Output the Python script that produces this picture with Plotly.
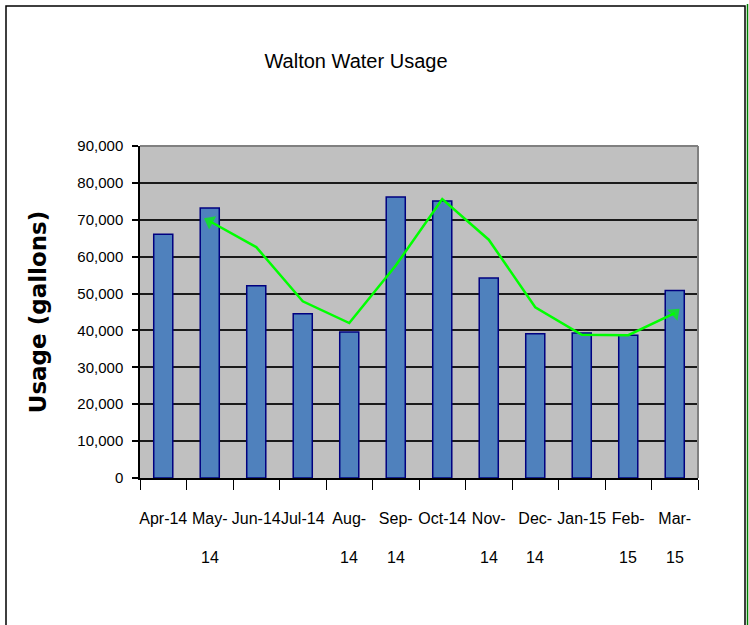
import plotly.graph_objects as go

# ---- data ----
months = ["Apr-14", "May-14", "Jun-14", "Jul-14", "Aug-14", "Sep-14",
          "Oct-14", "Nov-14", "Dec-14", "Jan-15", "Feb-15", "Mar-15"]
usage = [66100, 73200, 52100, 44500, 39600, 76200,
         75100, 54200, 39100, 39300, 38700, 50800]
# green trend line (starts at May-14)
trend_months = months[1:]
trend_values = [69600, 62600, 47900, 42000, 57600, 75600,
                64600, 46300, 38800, 38700, 44700]
# tick labels as they wrap in the reference
label_line1 = ["Apr-14", "May-", "Jun-14", "Jul-14", "Aug-", "Sep-",
               "Oct-14", "Nov-", "Dec-", "Jan-15", "Feb-", "Mar-"]
label_line2 = ["", "14", "", "", "14", "14", "", "14", "14", "", "15", "15"]
y_ticks = [0, 10000, 20000, 30000, 40000, 50000, 60000, 70000, 80000, 90000]

FONT = "Liberation Sans Narrow, Arial Narrow, Liberation Sans, Arial, sans-serif"

W, H = 749, 625
# plot area in screen pixels (from the reference)
X0, X1, Y0, Y1 = 140, 698, 146, 478
L, T = X0, Y0
R = W - X1
B = H - Y1
pw, ph = X1 - X0, Y1 - Y0


def px(x):
    return (x - X0) / pw


def py(y):
    return (Y1 - y) / ph


fig = go.Figure()
fig.add_trace(go.Bar(
    x=months, y=usage,
    marker=dict(color="#4F81BD", line=dict(color="#000080", width=1.5)),
    showlegend=False,
))

n = len(trend_months)
sizes = [0] * n
sizes[0] = 13
sizes[-1] = 13
angles = [0] * n
angles[0] = -62
angles[-1] = 48
fig.add_trace(go.Scatter(
    x=trend_months, y=trend_values, mode="lines+markers",
    line=dict(color="#00FF00", width=2.5),
    marker=dict(symbol="triangle-up", size=sizes, angle=angles, color="#00FF00",
                line=dict(width=0)),
    showlegend=False,
))

annotations = []
for m, t in zip(months, label_line2):
    if t:
        annotations.append(dict(
            x=m, y=py(557), xref="x", yref="paper", text=t, showarrow=False,
            xanchor="center", yanchor="middle",
            font=dict(family=FONT, size=16, color="black")))

shapes = [
    # outer frame
    dict(type="rect", xref="paper", yref="paper", x0=px(6), x1=px(745),
         y0=py(640), y1=py(6), line=dict(color="black", width=1.5), layer="below"),
    dict(type="line", xref="paper", yref="paper", x0=px(747.5), x1=px(747.5),
         y0=py(640), y1=py(4), line=dict(color="#008000", width=1.5)),
    # plot area border (top/right grey)
    dict(type="line", xref="paper", yref="paper", x0=0, x1=1, y0=1, y1=1,
         line=dict(color="#808080", width=2)),
    dict(type="line", xref="paper", yref="paper", x0=1, x1=1, y0=0, y1=1,
         line=dict(color="#808080", width=2)),
]

fig.update_layout(
    width=W, height=H,
    margin=dict(l=L, r=R, t=T, b=B, autoexpand=False),
    paper_bgcolor="white", plot_bgcolor="#C0C0C0",
    bargap=0.59,
    title=dict(text="Walton Water Usage", x=356 / W, xanchor="center",
               y=1 - 61 / H, yanchor="middle", xref="container",
               yref="container",
               font=dict(family=FONT, size=20, color="black")),
    xaxis=dict(
        type="category", categoryorder="array", categoryarray=months,
        range=[-0.5, len(months) - 0.5],
        tickvals=months, ticktext=label_line1, tickson="boundaries",
        tickangle=0,
        ticks="outside", ticklen=10, tickcolor="black", tickwidth=1,
        showline=True, linecolor="black", linewidth=1.5,
        showgrid=False, ticklabelstandoff=25,
        tickfont=dict(family=FONT, size=16, color="black"),
    ),
    yaxis=dict(
        range=[0, 90000], tickvals=y_ticks, tickformat=",",
        ticks="outside", ticklen=6, tickcolor="black", tickwidth=1.5,
        showline=True, linecolor="black", linewidth=1.5,
        showgrid=True, gridcolor="#1a1a1a", gridwidth=1.5,
        zeroline=False, ticklabelstandoff=6,
        tickfont=dict(family=FONT, size=15, color="black"),
        title=dict(text="Usage (gallons)", standoff=24,
                   font=dict(family="DejaVu Sans", size=23, color="black",
                             weight="bold")),
    ),
    annotations=annotations,
    shapes=shapes,
)

fig.write_html("out.html",
               config={"displayModeBar": False},
               post_script="document.body.style.margin='0';"
                           "document.body.style.overflow='hidden';")
